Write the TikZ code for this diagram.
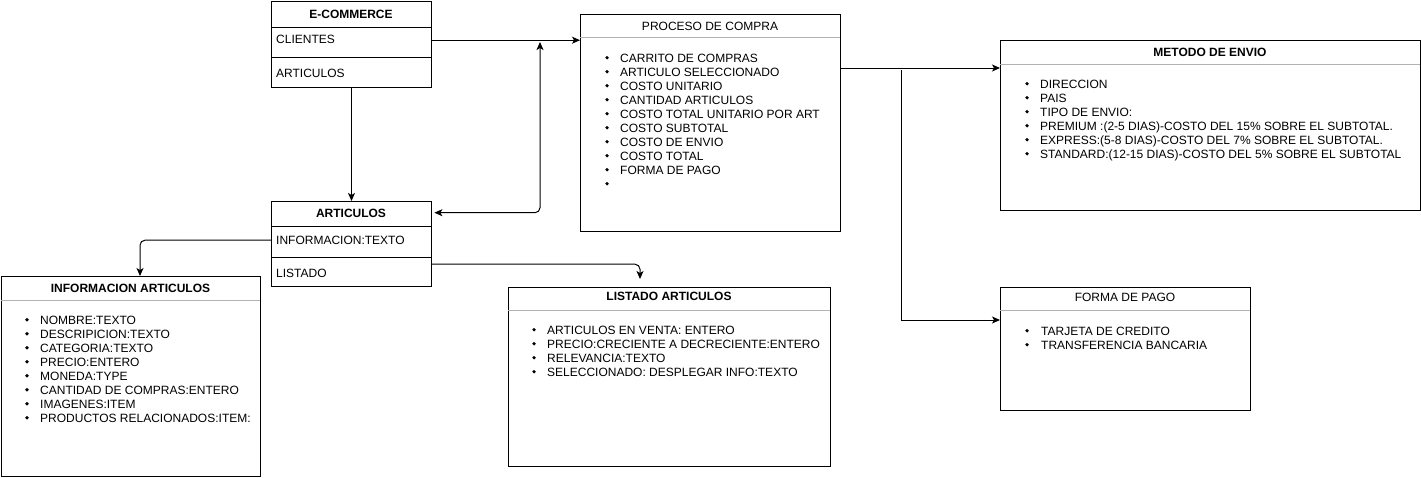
\documentclass[tikz,border=0pt]{standalone}
\usepackage{fontspec}
\setmainfont{Liberation Sans}
\usetikzlibrary{arrows.meta}

\tikzset{
  box/.style={draw, line width=1pt, anchor=north west, inner sep=0pt},
  row/.style={anchor=north west, inner sep=0pt, minimum width=160pt},
  hd/.style={anchor=base, inner sep=0pt, font=\bfseries},
  hdn/.style={anchor=base, inner sep=0pt},
  txt/.style={anchor=base west, inner sep=0pt},
  sep/.style={draw=gray!60, line width=1pt},
  link/.style={line width=1pt, ->},
  >={Stealth[length=8pt,width=7pt,inset=2pt]}
}

\begin{document}
\fontsize{12}{14}\selectfont
\begin{tikzpicture}[x=1pt, y=-1pt]
    \useasboundingbox (0,0) rectangle (1421,477);

    % E-COMMERCE
    \node[box, minimum width=160pt, minimum height=86pt] (ec) at (271,1) {};
    \draw[line width=1pt] (271,27) -- (431,27);
    \draw[line width=1pt] (271,57) -- (431,57);
    \node[row, minimum height=26pt] (ecCli) at (271,27) {};
    \node[hd] (ecT) at (351,18.5) {E-COMMERCE};
    \node[txt] (ecCliT) at (276,43.5) {CLIENTES};
    \node[txt] (ecArtT) at (276,77.5) {ARTICULOS};

    % ARTICULOS
    \node[box, minimum width=160pt, minimum height=85pt] (art) at (271,201) {};
    \draw[line width=1pt] (271,226) -- (431,226);
    \draw[line width=1pt] (271,257) -- (431,257);
    \node[row, minimum height=23pt] (artHd) at (271,201) {};
    \node[row, minimum height=28pt] (artInfo) at (271,226) {};
    \node[row, minimum height=14pt] (artList) at (271,257) {};
    \node[hd] (artT) at (351,217.5) {ARTICULOS};
    \node[txt] (artInfoT) at (276,244) {INFORMACION:TEXTO};
    \node[txt] (artListT) at (276,277) {LISTADO};

    % INFORMACION ARTICULOS
    \node[box, minimum width=259pt, minimum height=200pt] (info) at (1,276) {};
    \draw[sep] (1,300) -- (260,300);
    \node[hd] (infoT) at (130.5,292) {INFORMACION ARTICULOS};
    \foreach \t [count=\i from 0] in {NOMBRE:TEXTO, DESCRIPICION:TEXTO,
        CATEGORIA:TEXTO, PRECIO:ENTERO, MONEDA:TYPE,
        CANTIDAD DE COMPRAS:ENTERO, IMAGENES:ITEM,
        PRODUCTOS RELACIONADOS:ITEM:}
    {
        \node[txt] (info-\i) at (40,324+14*\i) {\t};
        \fill (27,319.7+14*\i) circle (1.8pt);
    }

    % LISTADO ARTICULOS
    \node[box, minimum width=322pt, minimum height=179pt] (list) at (508,287) {};
    \draw[sep] (508,310) -- (830,310);
    \node[hd] (listT) at (669,300) {LISTADO ARTICULOS};
    \foreach \t [count=\i from 0] in {ARTICULOS EN VENTA: ENTERO,
        PRECIO:CRECIENTE A DECRECIENTE:ENTERO, RELEVANCIA:TEXTO,
        SELECCIONADO: DESPLEGAR INFO:TEXTO}
    {
        \node[txt] (list-\i) at (547,334+14*\i) {\t};
        \fill (534,329.7+14*\i) circle (1.8pt);
    }

    % PROCESO DE COMPRA
    \node[box, minimum width=260pt, minimum height=217pt] (proc) at (580,14) {};
    \draw[sep] (580,37) -- (840,37);
    \node[hdn] (procT) at (710,30) {PROCESO DE COMPRA};
    \foreach \t [count=\i from 0] in {CARRITO DE COMPRAS, ARTICULO SELECCIONADO,
        COSTO UNITARIO, CANTIDAD ARTICULOS, COSTO TOTAL UNITARIO POR ART,
        COSTO SUBTOTAL, COSTO DE ENVIO, COSTO TOTAL, FORMA DE PAGO, {}}
    {
        \node[txt] (proc-\i) at (620,62+14*\i) {\t};
        \fill (607,57.7+14*\i) circle (1.8pt);
    }

    % METODO DE ENVIO
    \node[box, minimum width=420pt, minimum height=170pt] (met) at (1000,40) {};
    \draw[sep] (1000,64) -- (1420,64);
    \node[hd] (metT) at (1210,56) {METODO DE ENVIO};
    \foreach \t [count=\i from 0] in {DIRECCION, PAIS, TIPO DE ENVIO:,
        PREMIUM :(2-5 DIAS)-COSTO DEL 15\% SOBRE EL SUBTOTAL.,
        EXPRESS:(5-8 DIAS)-COSTO DEL 7\% SOBRE EL SUBTOTAL.,
        STANDARD:(12-15 DIAS)-COSTO DEL 5\% SOBRE EL SUBTOTAL}
    {
        \node[txt] (met-\i) at (1040,88+14*\i) {\t};
        \fill (1027,83.7+14*\i) circle (1.8pt);
    }

    % FORMA DE PAGO
    \node[box, minimum width=250pt, minimum height=123pt] (forma) at (1000,287) {};
    \draw[sep] (1000,310) -- (1250,310);
    \node[hdn] (formaT) at (1125,301.5) {FORMA DE PAGO};
    \foreach \t [count=\i from 0] in {TARJETA DE CREDITO, TRANSFERENCIA BANCARIA}
    {
        \node[txt] (forma-\i) at (1041,335+14*\i) {\t};
        \fill (1027,330.7+14*\i) circle (1.8pt);
    }

    % connectors
    \coordinate (upEnd) at (540,42);
    \coordinate (infoIn) at (140,276);
    \coordinate (listIn) at (640,279);
    \coordinate (procOut) at (840,68);
    \coordinate (fork) at (901,70);
    \coordinate (formaIn) at (1000,320);
    \draw[link] (ec.south) -- (art.north);
    \draw[link] (ecCli.east) -- (ecCli.east -| proc.west);
    \draw[link, <->, rounded corners=5pt, shorten <=3pt] (artHd.east) -| (upEnd);
    \draw[link, rounded corners=5pt] (artInfo.west) -| (infoIn);
    \draw[link, rounded corners=5pt] (artList.east) -| (listIn);
    \draw[link] (procOut) -- (procOut -| met.west);
    \draw[link] (fork) |- (formaIn);
\end{tikzpicture}
\end{document}
